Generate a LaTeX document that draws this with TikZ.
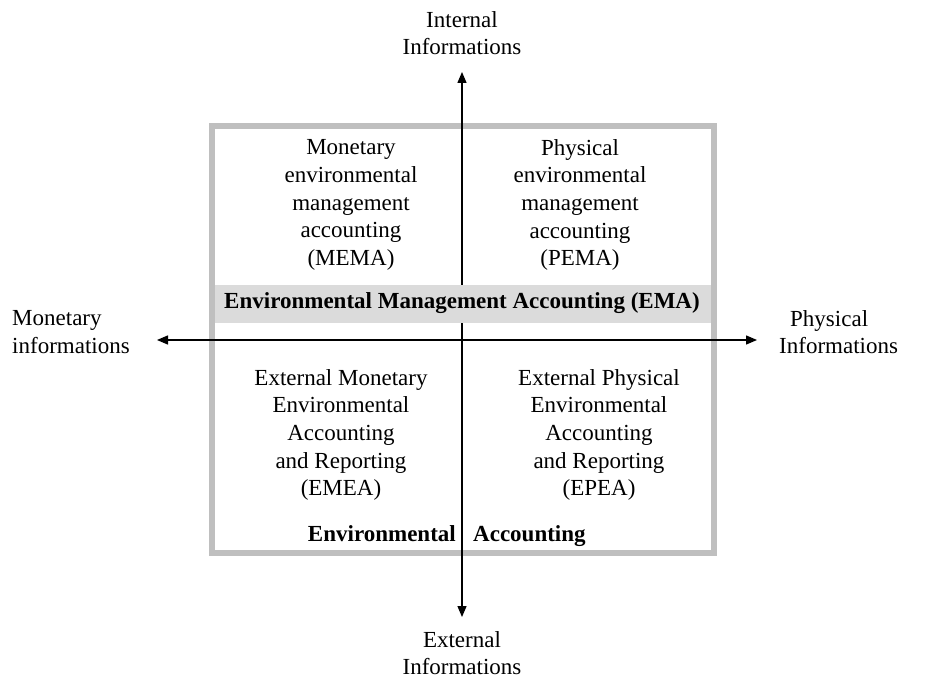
\documentclass[tikz,border=0pt]{standalone}
\usepackage{fontspec}
\setmainfont{Liberation Serif}
\usepackage{tikz}
\usetikzlibrary{arrows.meta}

\begin{document}
\begin{tikzpicture}[x=1pt,y=-1pt,
    txt/.style={font=\fontsize{23}{27.7}\selectfont, align=center, inner sep=0pt},
    btxt/.style={txt, font=\fontsize{23}{27.7}\selectfont\bfseries},
    axis/.style={line width=1.3pt, -{Triangle[length=11pt,width=9pt]}}]
\useasboundingbox (0,0) rectangle (927,684);
% frame
\draw[line width=6pt, draw=black!25] (212,126) rectangle (714,553);
% axes
\coordinate (c) at (462,340);
\coordinate (n) at (462,72);
\coordinate (s) at (462,617);
\coordinate (w) at (157,340);
\coordinate (e) at (757,340);
\draw[axis] (c) -- (n);
\draw[axis] (c) -- (s);
\draw[axis] (c) -- (w);
\draw[axis] (c) -- (e);
% EMA band over the axis
\fill[black!14] (215,285) rectangle (711,323);
% axis labels
\node[txt] (internal) at (462,33) {Internal\\Informations};
\node[txt] (external) at (462,653) {External\\Informations};
\node[txt, align=left, anchor=west] (monetary) at (12,332) {Monetary\\informations};
\node[txt, align=left, anchor=west] (physical) at (779,332) {\hspace*{11pt}Physical\\Informations};
% quadrants
\node[txt] (mema) at (351,205) {Monetary\\environmental\\management\\accounting\\(MEMA)};
\node[txt] (pema) at (580,205) {Physical\\environmental\\management\\accounting\\(PEMA)};
\node[txt] (emea) at (341,435) {External Monetary\\Environmental\\Accounting\\and Reporting\\(EMEA)};
\node[txt] (epea) at (599,435) {External Physical\\Environmental\\Accounting\\and Reporting\\(EPEA)};
% bands
\node[btxt] (ema) at (462,303) {Environmental Management Accounting (EMA)};
\node[btxt, anchor=base east] (env) at (456,541) {Environmental};
\node[btxt, anchor=base west] (acc) at (473,541) {Accounting};
\end{tikzpicture}
\end{document}
